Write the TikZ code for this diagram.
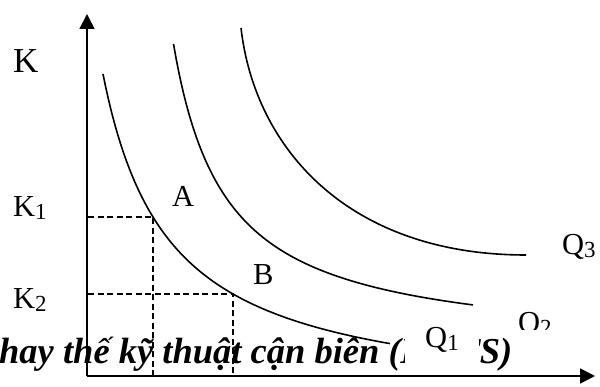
\documentclass[tikz,border=0pt]{standalone}
\usepackage{fontspec}
\setmainfont{Liberation Serif}
\usetikzlibrary{arrows.meta}
\newcommand{\sbs}[1]{\raisebox{-2.5pt}{\fontsize{23}{26}\selectfont #1}}
\begin{document}
\begin{tikzpicture}[x=1pt,y=-1pt,
  lbl/.style={font=\fontsize{30.5}{36}\selectfont, inner sep=0pt, anchor=base west},
  axisline/.style={line width=1.8pt, -{Triangle[length=15pt,width=15pt]}},
  qcurve/.style={line width=1.6pt},
  guide/.style={line width=1.3pt, dash pattern=on 6pt off 3.5pt}]
\useasboundingbox (0,0) rectangle (600,387);
\coordinate (O) at (87,376);
\coordinate (ytip) at (87,14);
\coordinate (xtip) at (595,376);
\coordinate (k1) at (88,217);
\coordinate (k2) at (88,294);
\coordinate (pA) at (153,217);
\coordinate (pB) at (233,294);
\coordinate (a1) at (153,376);
\coordinate (b1) at (233,376);
\coordinate (q3s) at (241,28);
\coordinate (q3e) at (526,255);

% Q2 label (partly hidden by the caption box)
\node[lbl] (q2) at (518,333) {Q\sbs{2}};
\fill[white] (0,330) rectangle (560,373);
\node[font=\fontsize{36.5}{42}\selectfont\bfseries\itshape, inner sep=0pt, anchor=base west] (title) at (-1,364) {hay thế kỹ thuật cận biên (MRTS)};

% axes
\draw[axisline] (O) -- (ytip);
\draw[axisline] (O) -- (xtip);

% guides
\draw[guide] (k1) -- (pA) -- (a1);
\draw[guide] (k2) -- (pB) -- (b1);

% isoquants
\draw[qcurve] plot[domain=103:390, samples=120] (\x, {405.5-218.43*(100/(\x-37.1))});
\draw[qcurve] plot[domain=173.5:473, samples=120] (\x, {350.5-160.32*(100/(\x-121.2))});
\draw[qcurve] (q3s) .. controls (255,150) and (350,255) .. (q3e);

% labels
\node[lbl, font=\fontsize{35}{40}\selectfont] (K) at (13,73) {K};
\node[lbl] (K1) at (13,217) {K\sbs{1}};
\node[lbl] (K2) at (13,309) {K\sbs{2}};
\node[lbl] (A) at (172,207) {A};
\node[lbl] (B) at (253,285) {B};
\node[lbl] (q3) at (562,255) {Q\sbs{3}};
\node[font=\fontsize{30.5}{36}\selectfont, fill=white, inner sep=0pt, minimum width=74pt, text height=22pt, text depth=23pt, anchor=base] (q1) at (442,348) {Q\sbs{1}};
\end{tikzpicture}
\end{document}
